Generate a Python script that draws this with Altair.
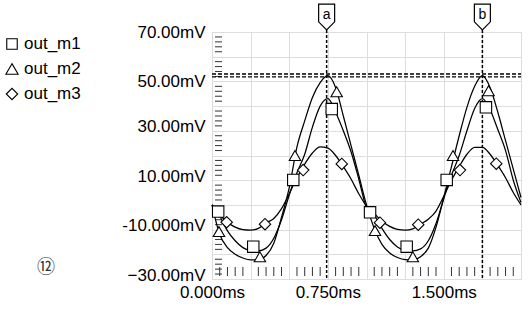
import altair as alt
import pandas as pd

# ---------------- data ----------------
series_names = ["out_m1", "out_m2", "out_m3"]
series_shapes = ["square", "triangle-up", "diamond"]

t_ms = [0.00, 0.05, 0.10, 0.15, 0.20, 0.25, 0.30, 0.35, 0.40, 0.45,
        0.50, 0.55, 0.60, 0.65, 0.70, 0.75, 0.80, 0.85, 0.90, 0.95,
        1.00, 1.05, 1.10, 1.15, 1.20, 1.25, 1.30, 1.35, 1.40, 1.45,
        1.50, 1.55, 1.60, 1.65, 1.70, 1.75, 1.80, 1.85, 1.90, 1.95, 2.00]

out_m1 = [0.0, -4.5, -10.5, -14.5, -17.3, -18.5, -18.6, -17.5, -13.5, -6.0,
          4.0, 13.0, 20.5, 31.5, 40.0, 43.0, 37.5, 30.0, 21.5, 10.5,
          -1.0, -4.0, -9.5, -14.0, -17.0, -18.4, -18.6, -17.8, -14.5, -7.5,
          2.5, 12.0, 20.0, 30.0, 39.0, 43.0, 38.5, 30.5, 22.0, 10.0, 1.0]

out_m2 = [0.0, -12.0, -17.3, -20.0, -21.5, -22.3, -22.2, -20.5, -15.5, -5.0,
          7.0, 23.5, 34.0, 43.5, 49.5, 52.3, 47.5, 36.0, 24.0, 12.0,
          0.0, -9.5, -16.0, -19.5, -21.3, -22.2, -22.3, -21.0, -17.5, -9.0,
          3.0, 15.5, 28.0, 39.5, 48.0, 52.3, 47.5, 37.5, 26.0, 14.5, 3.0]

out_m3 = [0.0, -4.0, -7.0, -9.0, -10.0, -10.2, -9.5, -7.3, -5.5, -1.5,
          4.5, 11.0, 16.5, 21.0, 23.5, 23.0, 20.0, 15.5, 10.5, 4.5,
          -0.5, -3.5, -6.5, -8.7, -9.9, -10.2, -9.7, -7.8, -5.8, -2.5,
          3.5, 10.0, 15.5, 20.5, 23.3, 23.3, 20.5, 16.0, 11.0, 5.0, 0.0]

m1_marker_t = [0.04, 0.267, 0.526, 0.775, 1.023, 1.26, 1.519, 1.773]
m1_marker_v = [-2.7, -16.9, 10.1, 38.8, -3.0, -16.9, 10.1, 39.5]
m2_marker_t = [0.045, 0.31, 0.537, 0.807, 1.055, 1.30, 1.56, 1.79]
m2_marker_v = [-10.8, -21.0, 20.0, 45.8, -10.4, -21.0, 20.0, 46.2]
m3_marker_t = [0.095, 0.343, 0.59, 0.84, 1.087, 1.335, 1.605, 1.84]
m3_marker_v = [-7.0, -7.8, 14.1, 16.6, -7.2, -8.0, 14.1, 16.7]

cursor_t = [0.742, 1.75]
cursor_label = ["a", "b"]
cursor_level = [53.0, 51.8]

y_grid = [-30, -20, -10, 0, 10, 20, 30, 40, 50, 60, 70]
x_grid = [0.0, 0.25, 0.5, 0.75, 1.0, 1.25, 1.5, 1.75, 2.0]
x_labels = [0.0, 0.75, 1.5]
y_minor = [v for v in range(-28, 70, 2) if v % 10 != 0]
x_minor = [round(0.05 * i, 2) for i in range(1, 40) if i % 5 != 0]

# ---------------- tables ----------------
lines_df = pd.concat([
    pd.DataFrame({"series": name, "t": t_ms, "v": vals})
    for name, vals in zip(series_names, [out_m1, out_m2, out_m3])
])
marker_sets = [(m1_marker_t, m1_marker_v), (m2_marker_t, m2_marker_v), (m3_marker_t, m3_marker_v)]
cursor_df = pd.DataFrame({"t": cursor_t, "label": cursor_label})
level_df = pd.DataFrame({"v": cursor_level})
ymin_df = pd.DataFrame({"v": y_minor})
xmin_df = pd.DataFrame({"t": x_minor})

W, H = 309, 247
FONT = "Liberation Sans"

xscale = alt.Scale(domain=[0, 2.0], nice=False, zero=False)
yscale = alt.Scale(domain=[-30, 70], nice=False, zero=False)
xaxis = alt.Axis(
    values=x_grid, grid=True, ticks=False, domain=False, title=None,
    labelExpr="indexof([0, 0.75, 1.5], datum.value) >= 0 ? format(datum.value, '.3f') + 'ms' : ''",
    labelFlush=False, labelOverlap=False, labelFontSize=17, labelFont=FONT,
    labelColor="black", labelPadding=5,
)
yaxis = alt.Axis(
    values=y_grid, grid=True, ticks=False, domain=False, title=None,
    labelExpr="datum.value == -10 ? '-10.000mV' : ((datum.value + 30) % 20 == 0 ? format(datum.value, '.2f') + 'mV' : '')",
    labelOverlap=False, labelFontSize=17, labelFont=FONT, labelColor="black",
    labelPadding=7,
    labelOffset={"condition": {"test": "datum.value >= 50", "value": 0},
                 "value": -4},
)


def X(field):
    return alt.X(field, type="quantitative", scale=xscale, axis=xaxis)


def Y(field):
    return alt.Y(field, type="quantitative", scale=yscale, axis=yaxis)


lines = alt.Chart(lines_df).mark_line(
    color="black", strokeWidth=1.25, interpolate="monotone"
).encode(x=X("t"), y=Y("v"), detail="series:N")

point_layers = []
for name, shape, (mt, mv) in zip(series_names, series_shapes, marker_sets):
    df = pd.DataFrame({"series": name, "t": mt, "v": mv})
    point_layers.append(
        alt.Chart(df).mark_point(
            shape=shape, filled=True, fill="white", stroke="black",
            strokeWidth=1.1, size=130, opacity=1
        ).encode(x=X("t"), y=Y("v"))
    )

# legend (top-left), one entry per series
legend_layers = []
legend_sizes = [110, 150, 130]
for i, (name, shape, sz) in enumerate(zip(series_names, series_shapes, legend_sizes)):
    df = pd.DataFrame({"series": [name]})
    ypos = 12 + 25 * i
    legend_layers.append(
        alt.Chart(df).mark_point(
            shape=shape, filled=True, fill="white", stroke="black",
            strokeWidth=1.1, size=sz, opacity=1
        ).encode(x=alt.value(-200), y=alt.value(ypos))
    )
    legend_layers.append(
        alt.Chart(df).mark_text(
            fontSize=17, font=FONT, align="left", baseline="middle", color="black"
        ).encode(x=alt.value(-188), y=alt.value(ypos), text="series:N")
    )

left_ticks = alt.Chart(ymin_df).mark_rule(color="#333", strokeWidth=1).encode(
    y=Y("v"), x=alt.value(3), x2=alt.value(10)
)
bottom_ticks = alt.Chart(xmin_df).mark_rule(color="#333", strokeWidth=1).encode(
    x=X("t"), y=alt.value(H - 12), y2=alt.value(H - 3)
)

cursor_lines = alt.Chart(cursor_df).mark_rule(
    color="black", strokeWidth=1.5, strokeDash=[3, 2]
).encode(x=X("t"), y=alt.value(-2), y2=alt.value(H))

level_lines = alt.Chart(level_df).mark_rule(
    color="black", strokeWidth=1.3, strokeDash=[4, 2]
).encode(y=Y("v"), x=alt.value(0), x2=alt.value(W))

flags = alt.Chart(cursor_df).mark_point(
    shape="M-1,-1.6L1,-1.6L1,0.6L0,1.6L-1,0.6Z", size=256, filled=True,
    fill="white", stroke="black", strokeWidth=1.2, opacity=1
).encode(x=X("t"), y=alt.value(-15))

flag_text = alt.Chart(cursor_df).mark_text(
    fontSize=14, font=FONT, baseline="middle", align="center", color="black"
).encode(x=X("t"), y=alt.value(-17), text="label:N")

circled = alt.Chart(pd.DataFrame({"s": ["⑫"]})).mark_text(
    fontSize=18, font="Noto Sans CJK JP", baseline="middle", align="center", color="#333"
).encode(x=alt.value(-166), y=alt.value(236), text="s:N")

chart = alt.layer(
    left_ticks, bottom_ticks, lines, level_lines, cursor_lines, *point_layers,
    flags, flag_text, circled, *legend_layers
).properties(
    width=W, height=H,
    autosize=alt.AutoSizeParams(type="none"),
    padding={"left": 212, "top": 32, "right": 11, "bottom": 30},
).configure_view(
    stroke="#333", strokeWidth=1.5
).configure_axis(
    gridColor="#5a5a5a", gridOpacity=1, gridWidth=1
).configure(background="white")

chart.save("out.html", embed_options={"renderer": "svg", "actions": False})
